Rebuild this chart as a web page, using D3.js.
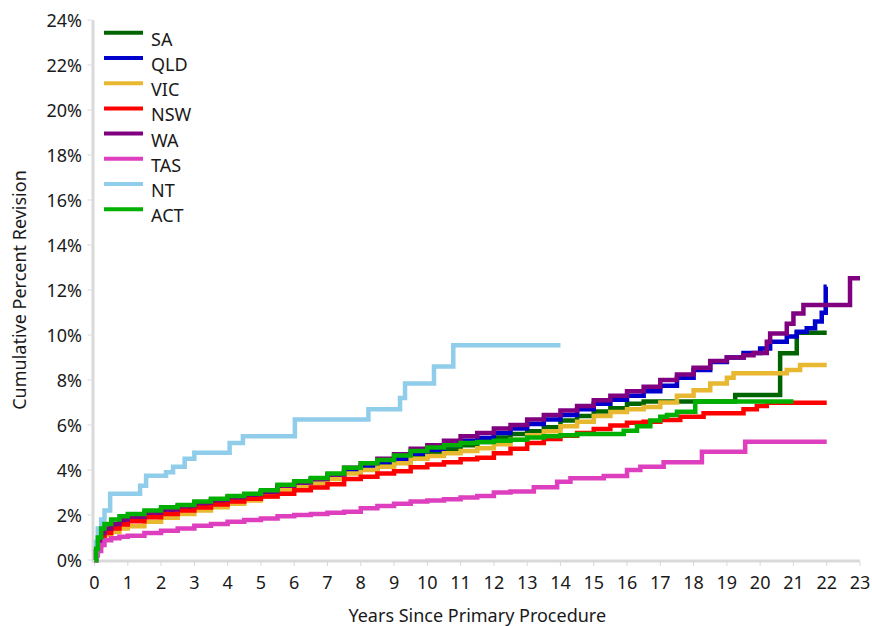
<!DOCTYPE html>
<html><head><meta charset="utf-8">
<script src="https://cdn.jsdelivr.net/npm/d3@7"></script>
<style>body{margin:0;background:#fff;} text{font-family:"Noto Sans",sans-serif;fill:#1a1a1a;}</style>
</head><body><svg id="c" width="872" height="626"></svg>
<script>
const seriesNames = ["SA","QLD","VIC","NSW","WA","TAS","NT","ACT"];
const seriesColors = ["#006400","#0000CD","#E8B830","#FF0000","#800080","#DD3FBF","#8FCDEA","#00B000"];
const xTicks = d3.range(0,24);
const yTicks = [0,2,4,6,8,10,12,14,16,18,20,22,24];

const SA = [[0,0],[0.05,0.4],[0.1,0.75],[0.2,1.1],[0.3,1.3],[0.5,1.5],[0.75,1.7],[1,1.82],[1.5,2.02],[2,2.18],[2.5,2.32],[3,2.45],[3.5,2.6],[4,2.72],[4.5,2.85],[5,3.0],[5.5,3.2],[6,3.35],[6.5,3.5],[7,3.65],[7.5,3.9],[8,4.05],[8.5,4.25],[9,4.4],[9.5,4.6],[10,4.75],[10.5,4.95],[11,5.1],[11.5,5.25],[12,5.45],[12.5,5.6],[13,5.72],[13.5,5.9],[14,6.2],[14.5,6.4],[15,6.6],[15.5,6.75],[16,6.95],[16.5,7.04],[19.25,7.33],[20.6,9.19],[21.1,10.1],[22.0,10.1]];
const QLD = [[0,0],[0.05,0.4],[0.1,0.75],[0.2,1.1],[0.3,1.3],[0.5,1.5],[0.75,1.68],[1,1.8],[1.5,2.0],[2,2.15],[2.5,2.3],[3,2.45],[3.5,2.6],[4,2.72],[4.5,2.85],[5,3.0],[5.5,3.25],[6,3.4],[6.5,3.55],[7,3.7],[7.5,3.95],[8,4.15],[8.5,4.35],[9,4.5],[9.5,4.72],[10,4.9],[10.5,5.1],[11,5.3],[11.5,5.42],[12,5.65],[12.5,5.85],[13,6.05],[13.5,6.25],[14,6.45],[14.5,6.7],[15,6.95],[15.5,7.12],[16,7.3],[16.5,7.5],[17,7.75],[17.5,8.1],[18,8.45],[18.5,8.8],[19,9.0],[19.5,9.2],[20,9.4],[20.3,9.7],[20.8,9.93],[21.1,10.15],[21.4,10.3],[21.65,10.6],[21.85,10.99],[21.97,12.15],[22.0,12.15]];
const VIC = [[0,0],[0.05,0.3],[0.1,0.6],[0.2,0.95],[0.3,1.1],[0.5,1.25],[0.75,1.4],[1,1.5],[1.5,1.7],[2,1.88],[2.5,2.05],[3,2.2],[3.5,2.35],[4,2.5],[4.5,2.65],[5,2.82],[5.5,3.1],[6,3.25],[6.5,3.4],[7,3.6],[7.5,3.85],[8,4.0],[8.5,4.15],[9,4.3],[9.5,4.5],[10,4.62],[10.5,4.75],[11,4.85],[11.5,4.97],[12,5.15],[12.5,5.35],[13,5.55],[13.5,5.72],[14,5.95],[14.5,6.15],[15,6.4],[15.5,6.58],[16,6.7],[16.5,6.8],[17,7.0],[17.5,7.3],[18,7.55],[18.5,7.85],[19,8.1],[19.2,8.3],[20.8,8.44],[21.2,8.67],[22.0,8.67]];
const NSW = [[0,0],[0.05,0.4],[0.1,0.7],[0.2,1.05],[0.3,1.2],[0.5,1.4],[0.75,1.58],[1,1.72],[1.5,1.9],[2,2.05],[2.5,2.2],[3,2.33],[3.5,2.47],[4,2.6],[4.5,2.72],[5,2.82],[5.5,2.95],[6,3.1],[6.5,3.22],[7,3.37],[7.5,3.6],[8,3.7],[8.5,3.85],[9,3.95],[9.5,4.12],[10,4.25],[10.5,4.35],[11,4.48],[11.5,4.55],[12,4.75],[12.5,4.95],[13,5.2],[13.5,5.38],[14,5.52],[14.5,5.65],[15,5.82],[15.5,5.98],[16,6.1],[16.5,6.15],[17,6.22],[17.6,6.37],[18.3,6.52],[19.5,6.7],[19.9,6.84],[20.2,6.99],[22.0,6.99]];
const WA = [[0,0],[0.05,0.4],[0.1,0.8],[0.2,1.2],[0.3,1.4],[0.5,1.6],[0.75,1.8],[1,1.92],[1.5,2.1],[2,2.25],[2.5,2.4],[3,2.55],[3.5,2.68],[4,2.8],[4.5,2.92],[5,3.05],[5.5,3.3],[6,3.45],[6.5,3.6],[7,3.8],[7.5,4.1],[8,4.3],[8.5,4.5],[9,4.7],[9.5,4.95],[10,5.1],[10.5,5.3],[11,5.5],[11.5,5.65],[12,5.85],[12.5,6.0],[13,6.25],[13.5,6.45],[14,6.65],[14.5,6.85],[15,7.1],[15.5,7.3],[16,7.5],[16.5,7.7],[17,8.0],[17.5,8.25],[18,8.55],[18.5,8.85],[19,9.0],[19.5,9.1],[19.8,9.2],[20.2,9.7],[20.3,10.07],[20.8,10.5],[21.0,10.96],[21.3,11.33],[22.7,12.52],[23.0,12.52]];
const TAS = [[0,0],[0.05,0.2],[0.1,0.4],[0.2,0.67],[0.3,0.88],[0.5,0.97],[0.75,1.03],[1,1.08],[1.5,1.2],[2,1.3],[2.5,1.4],[3,1.52],[3.5,1.6],[4,1.7],[4.5,1.78],[5,1.85],[5.5,1.95],[6,2.0],[6.5,2.05],[7,2.1],[7.5,2.15],[8,2.3],[8.5,2.4],[9,2.5],[9.5,2.6],[10,2.65],[10.5,2.7],[11,2.78],[11.5,2.85],[12,3.0],[12.5,3.05],[13.2,3.23],[13.9,3.48],[14.3,3.63],[15.3,3.73],[16.0,4.0],[16.4,4.15],[17.1,4.34],[18.25,4.81],[19.55,5.26],[22.0,5.26]];
const NT = [[0,0],[0.05,0.8],[0.1,1.4],[0.2,1.8],[0.3,2.2],[0.47,2.95],[1.37,3.3],[1.55,3.75],[2.15,3.9],[2.36,4.15],[2.71,4.5],[3.0,4.77],[4.06,5.2],[4.46,5.5],[6.02,6.25],[8.23,6.7],[9.18,7.2],[9.33,7.85],[10.2,8.6],[10.78,9.55],[14.0,9.55]];
const ACT = [[0,0],[0.05,0.5],[0.1,1.0],[0.2,1.4],[0.3,1.6],[0.5,1.8],[0.75,1.95],[1,2.05],[1.5,2.2],[2,2.35],[2.5,2.45],[3,2.6],[3.5,2.72],[4,2.85],[4.5,2.95],[5,3.1],[5.5,3.35],[6,3.5],[6.5,3.65],[7,3.85],[7.5,4.1],[8,4.3],[8.5,4.45],[9,4.65],[9.5,4.85],[10,5.0],[10.5,5.1],[11,5.2],[11.5,5.25],[12,5.3],[12.5,5.35],[13,5.45],[13.5,5.5],[14,5.55],[14.5,5.6],[15.9,5.75],[16.3,5.95],[16.7,6.2],[17.0,6.37],[17.2,6.45],[17.5,6.59],[18.05,7.04],[21.0,7.04]];
const seriesData = [SA,QLD,VIC,NSW,WA,TAS,NT,ACT];

const svg = d3.select("#c");
const x = d3.scaleLinear().domain([0,23]).range([94.5,860]);
const y = d3.scaleLinear().domain([0,24]).range([560,20]);
const axisColor = "#d9d9d9";

// axes lines
svg.append("line").attr("x1",x(0)-1.5).attr("x2",x(23)).attr("y1",y(0)+1).attr("y2",y(0)+1)
  .attr("stroke",axisColor).attr("stroke-width",3);
svg.append("line").attr("x1",x(0)-1.5).attr("x2",x(0)-1.5).attr("y1",y(24)).attr("y2",y(0)+2.5)
  .attr("stroke",axisColor).attr("stroke-width",3);

// x ticks
const xg = svg.append("g");
xg.selectAll("line").data(xTicks).join("line")
  .attr("x1",d=>x(d)).attr("x2",d=>x(d)).attr("y1",y(0)+2).attr("y2",y(0)+6)
  .attr("stroke",axisColor).attr("stroke-width",1);
xg.selectAll("text").data(xTicks).join("text")
  .attr("x",d=>x(d)).attr("y",589).attr("text-anchor","middle")
  .attr("font-size",18).text(d=>d);

// y ticks
const yg = svg.append("g");
yg.selectAll("line").data(yTicks).join("line")
  .attr("x1",x(0)-7).attr("x2",x(0)-3).attr("y1",d=>y(d)).attr("y2",d=>y(d))
  .attr("stroke",axisColor).attr("stroke-width",1);
yg.selectAll("text").data(yTicks).join("text")
  .attr("x",82).attr("y",d=>y(d)+6.5).attr("text-anchor","end")
  .attr("font-size",18).text(d=>d+"%");

// titles
svg.append("text").attr("x",(x(0)+x(23))/2).attr("y",622).attr("text-anchor","middle")
  .attr("font-size",18).text("Years Since Primary Procedure");
svg.append("text").attr("transform","translate(26,290) rotate(-90)").attr("text-anchor","middle")
  .attr("font-size",18).text("Cumulative Percent Revision");

// lines
const line = d3.line().x(d=>x(d[0])).y(d=>y(d[1])).curve(d3.curveStepAfter);
seriesData.forEach((s,i)=>{
  svg.append("path").attr("d",line(s)).attr("fill","none")
    .attr("stroke",seriesColors[i]).attr("stroke-width",4.5).attr("stroke-linejoin","miter");
});

// legend
const lg = svg.append("g");
seriesNames.forEach((n,i)=>{
  const ly = 32.7 + i*25.23;
  lg.append("line").attr("x1",104).attr("x2",143).attr("y1",ly).attr("y2",ly)
    .attr("stroke",seriesColors[i]).attr("stroke-width",4);
  lg.append("text").attr("x",151).attr("y",ly+13).attr("font-size",18).text(n);
});
</script></body></html>
